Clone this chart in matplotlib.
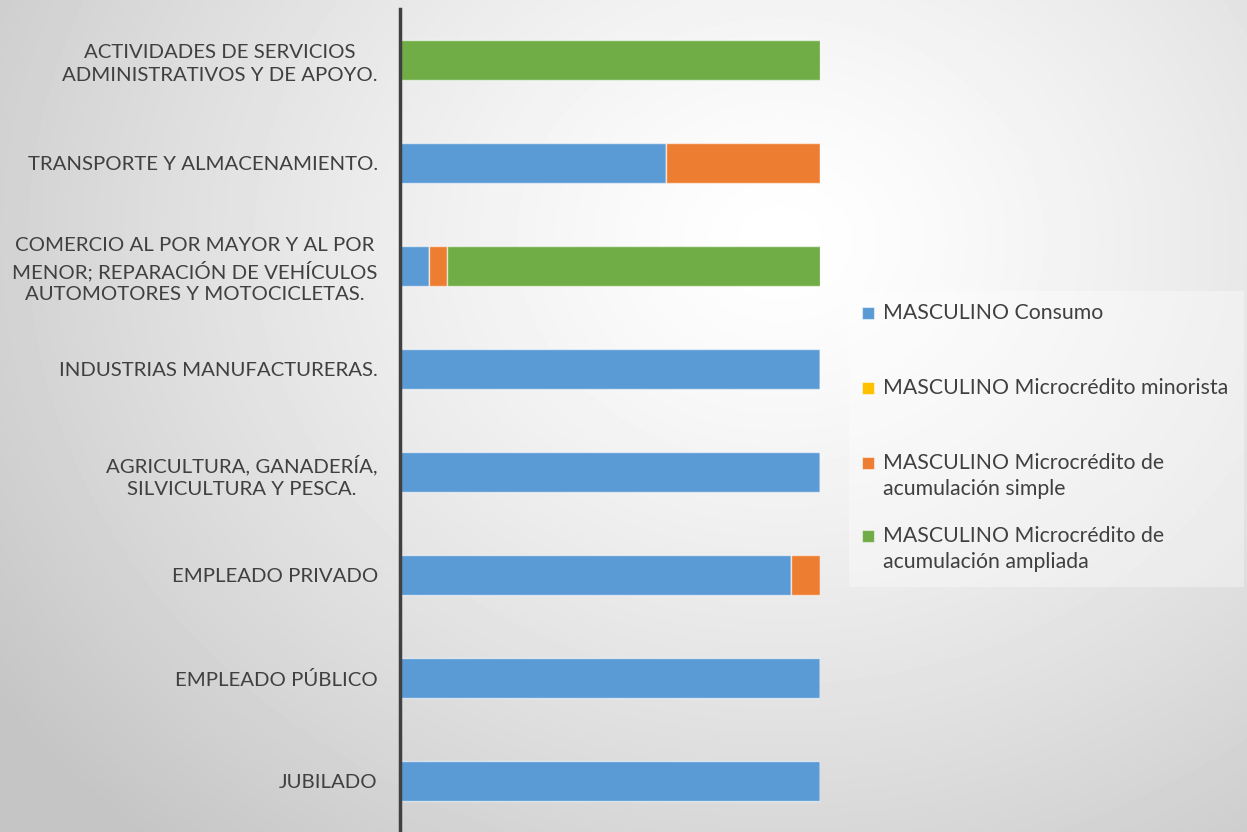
import numpy as np
import matplotlib.pyplot as plt
from matplotlib.patches import Rectangle

plt.rcParams['font.family'] = ['Lato', 'DejaVu Sans']

# categories listed top to bottom, shares in percent
categories = [
    "ACTIVIDADES DE SERVICIOS\nADMINISTRATIVOS Y DE APOYO.",
    "TRANSPORTE Y ALMACENAMIENTO.",
    "COMERCIO AL POR MAYOR Y AL POR\nMENOR; REPARACIÓN DE VEHÍCULOS\nAUTOMOTORES Y MOTOCICLETAS.",
    "INDUSTRIAS MANUFACTURERAS.",
    "AGRICULTURA, GANADERÍA,\nSILVICULTURA Y PESCA.",
    "EMPLEADO PRIVADO",
    "EMPLEADO PÚBLICO",
    "JUBILADO",
]
series_names = [
    "MASCULINO Consumo",
    "MASCULINO Microcrédito minorista",
    "MASCULINO Microcrédito de\nacumulación simple",
    "MASCULINO Microcrédito de\nacumulación ampliada",
]
consumo = [0, 63.3, 6.9, 100, 100, 93.1, 100, 100]
minorista = [0, 0, 0, 0, 0, 0, 0, 0]
acum_simple = [0, 36.7, 4.3, 0, 0, 6.9, 0, 0]
acum_ampliada = [100, 0, 88.8, 0, 0, 0, 0, 0]
colors = ['#5B9BD5', '#FFC000', '#ED7D31', '#70AD47']

W, H = 1247, 832
fig = plt.figure(figsize=(W / 100, H / 100), dpi=100)

# radial gradient background
bg = fig.add_axes([0, 0, 1, 1], zorder=-10)
yy, xx = np.mgrid[0:H, 0:W]
d = np.sqrt(((xx - 780) / 950.0) ** 2 + ((yy - 240) / 800.0) ** 2)
shade = (255 - 58 * np.clip(d, 0, 1) ** 1.3) / 255.0
bg.imshow(shade, cmap='gray', vmin=0, vmax=1, aspect='auto', extent=[0, 1, 0, 1], origin='upper')
bg.axis('off')

ax = fig.add_axes([400 / W, -0.5 / H, 420 / W, 824 / H])
ax.patch.set_alpha(0)

data = [consumo, minorista, acum_simple, acum_ampliada]
totals = np.sum(data, axis=0)
ypos = np.arange(len(categories))
left = np.zeros(len(categories))
for vals, c in zip(data, colors):
    share = np.array(vals) / totals
    ax.barh(ypos, share, left=left, height=0.39, color=c,
            edgecolor=(1, 1, 1, 0.6), linewidth=1)
    left += share

ax.set_xlim(0, 1)
ax.set_ylim(len(categories) - 0.5, -0.5)
ax.set_yticks(ypos)
ax.set_yticklabels(categories, fontsize=14.7, color='#404040', multialignment='center',
                   linespacing=1.38)
ax.tick_params(axis='y', length=0, pad=16)
ax.set_xticks([])
for s in ['top', 'right', 'bottom']:
    ax.spines[s].set_visible(False)
ax.spines['left'].set_color('#404040')
ax.spines['left'].set_linewidth(2.5)

# legend box drawn by hand to follow the original layout
fig.patches.append(Rectangle((849 / W, 1 - 587 / H), 395 / W, 296 / H,
                             transform=fig.transFigure, facecolor='white',
                             alpha=0.35, edgecolor='none', zorder=1))
legend_y = [313, 388, 463, 536]
for name, c, ly in zip(series_names, colors, legend_y):
    fig.patches.append(Rectangle((862 / W, 1 - (ly + 6) / H), 12 / W, 12 / H,
                                 transform=fig.transFigure, facecolor=c,
                                 edgecolor=(1, 1, 1, 0.5), linewidth=0.8, zorder=2))
    fig.text(883 / W, 1 - (ly - 10) / H, name, fontsize=15.3, color='#404040',
             va='top', ha='left', linespacing=1.35, zorder=3)

fig.savefig('out.png', dpi=100)
